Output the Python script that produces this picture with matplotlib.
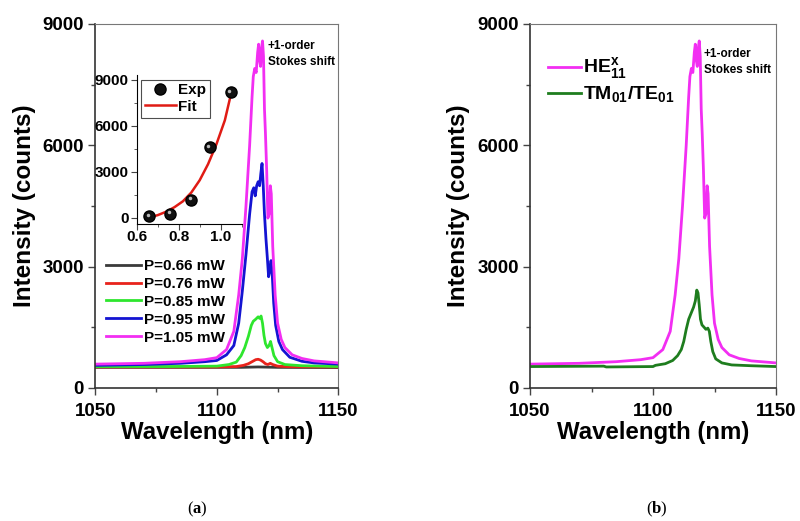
import matplotlib
matplotlib.use("Agg")
import matplotlib.pyplot as plt
from matplotlib.ticker import MultipleLocator
from matplotlib import transforms

# =====================================================
# FONTS
# =====================================================

plt.rcParams["font.family"] = ["Liberation Sans", "DejaVu Sans"]
plt.rcParams["font.weight"] = "bold"
plt.rcParams["mathtext.fontset"] = "custom"
plt.rcParams["mathtext.rm"] = "Liberation Sans:bold"
plt.rcParams["mathtext.bf"] = "Liberation Serif:bold"

# =====================================================
# DATA
# =====================================================

wl_066 = [1050, 1110, 1117, 1125, 1150]
i_066 = [510, 510, 520, 510, 505]

wl_076 = [1050, 1100, 1108, 1111, 1113, 1114.5, 1116, 1117, 1118, 1119,
          1120, 1121, 1122, 1123, 1125, 1130, 1150]
i_076 = [520, 520, 530, 560, 600, 650, 700, 710, 690, 650,
         600, 580, 610, 580, 540, 525, 520]

wl_085 = [1050, 1080, 1100, 1105, 1108, 1110, 1111.5, 1113, 1114.2, 1115,
          1116, 1117, 1117.6, 1118.2, 1118.8, 1119.4, 1120, 1120.8, 1121.5,
          1122.1, 1122.7, 1123.5, 1125, 1128, 1135, 1150]
i_085 = [530, 530, 540, 580, 640, 800, 1000, 1280, 1550, 1650,
         1700, 1760, 1720, 1780, 1600, 1300, 1100, 1000, 1050,
         1150, 1000, 800, 650, 580, 550, 530]

wl_095 = [1050, 1070, 1085, 1095, 1100, 1104, 1107, 1109, 1110.5, 1112,
          1113.5, 1114.5, 1115.2, 1115.8, 1116.4, 1117, 1117.6, 1118.1,
          1118.6, 1119.1, 1119.6, 1120.2, 1120.8, 1121.3, 1121.8, 1122.3,
          1122.8, 1123.4, 1124.2, 1125.5, 1127, 1130, 1135, 1140, 1150]
i_095 = [560, 580, 610, 650, 680, 820, 1050, 1600, 2400, 3300,
         4300, 4850, 4950, 4750, 5000, 5100, 5000, 5300,
         5550, 5000, 4300, 3700, 3200, 2750, 2900, 3150,
         2800, 2100, 1550, 1150, 950, 760, 660, 620, 590]

wl_105 = [1050, 1070, 1085, 1095, 1100, 1104, 1107, 1109, 1110.5, 1112,
          1113.5, 1114.5, 1115, 1115.6, 1116.2, 1116.8, 1117.2, 1117.6,
          1118, 1118.4, 1118.8, 1119.2, 1119.6, 1120, 1120.5, 1121, 1121.5,
          1122, 1122.4, 1123, 1124, 1125, 1126.5, 1128, 1131, 1135, 1140, 1150]
i_105 = [590, 610, 650, 700, 750, 950, 1400, 2300, 3200, 4500,
         6000, 7200, 7700, 7900, 7800, 8300, 8500, 8100,
         7950, 8400, 8580, 8200, 6900, 6300, 5400, 4200, 4300,
         5000, 4800, 3500, 2300, 1600, 1200, 1000, 820, 730, 670, 620]

wl_tm = [1050, 1080, 1081, 1100, 1101, 1105, 1108, 1110, 1111.5, 1112.5,
         1113.5, 1114.5, 1115.5, 1116.5, 1117.2, 1117.8, 1118.3, 1118.8,
         1119.3, 1119.9, 1120.8, 1121.5, 1122.3, 1122.9, 1123.5, 1124.3,
         1125.5, 1128, 1132, 1140, 1150]
i_tm = [530, 540, 520, 530, 560, 600, 680, 800, 950, 1150,
        1450, 1700, 1850, 2000, 2150, 2420, 2350, 2050,
        1700, 1560, 1500, 1450, 1480, 1400, 1150, 900,
        720, 620, 570, 550, 530]

power_exp = [0.66, 0.76, 0.86, 0.95, 1.05]
peak_exp = [100, 260, 1190, 4600, 8180]

power_fit = [0.66, 0.70, 0.74, 0.78, 0.82, 0.86, 0.90, 0.94, 0.98, 1.02, 1.05]
peak_fit = [30, 180, 400, 700, 1080, 1650, 2450, 3500, 4800, 6350, 8100]

power_labels = ["P=0.66 mW", "P=0.76 mW", "P=0.85 mW", "P=0.95 mW", "P=1.05 mW"]
power_colors = ["#3a3a3a", "#e8231c", "#2ee62e", "#1414d2", "#f22ef2"]

# =====================================================
# FIGURE
# =====================================================

fig = plt.figure(figsize=(8, 5.21), dpi=100)

ax_a = fig.add_axes([0.119, 0.2553, 0.304, 0.6987])
ax_b = fig.add_axes([0.6625, 0.2553, 0.3075, 0.6987])


def style_main(ax):
    ax.set_xlim(1050, 1150)
    ax.set_ylim(0, 9000)
    ax.xaxis.set_major_locator(MultipleLocator(50))
    ax.xaxis.set_minor_locator(MultipleLocator(25))
    ax.yaxis.set_major_locator(MultipleLocator(3000))
    ax.yaxis.set_minor_locator(MultipleLocator(1500))
    ax.tick_params(which="both", direction="out", top=False, right=False,
                   labelsize=13.5, width=1.0, color="#444444")
    ax.tick_params(which="major", length=5)
    ax.tick_params(which="minor", length=3)
    ax.tick_params(axis="x", which="major", pad=5.5)
    ax.tick_params(axis="y", which="major", pad=3)
    for lab in ax.get_xticklabels() + ax.get_yticklabels():
        lab.set_fontweight("bold")
    ax.spines["left"].set_color("#333333")
    ax.spines["bottom"].set_color("#333333")
    ax.spines["left"].set_linewidth(1.2)
    ax.spines["bottom"].set_linewidth(1.2)
    ax.spines["top"].set_color("#777777")
    ax.spines["right"].set_color("#777777")
    ax.spines["top"].set_linewidth(0.8)
    ax.spines["right"].set_linewidth(0.8)
    ax.set_xlabel("Wavelength (nm)", fontsize=17.3, fontweight="bold", labelpad=1)
    ax.set_ylabel("Intensity (counts)", fontsize=17.5, fontweight="bold", labelpad=5)


# =====================================================
# PANEL (a)
# =====================================================

spectra = [
    (wl_066, i_066),
    (wl_076, i_076),
    (wl_085, i_085),
    (wl_095, i_095),
    (wl_105, i_105),
]

for (wl, inten), lab, col in zip(spectra, power_labels, power_colors):
    ax_a.plot(wl, inten, color=col, lw=2.0, label=lab)

style_main(ax_a)

ax_a.legend(
    loc="upper left",
    bbox_to_anchor=(0.0, 0.384),
    frameon=False,
    handlelength=2.3,
    handletextpad=0.2,
    labelspacing=0.26,
    borderaxespad=0.3,
    prop={"weight": "bold", "size": 11},
)

ax_a.text(1121.0, 8600, "+1-order\nStokes shift", fontsize=8.5,
          fontweight="bold", va="top", ha="left", linespacing=1.45)

# inset
ax_in = fig.add_axes([0.171, 0.570, 0.131, 0.286])
ax_in.plot(power_fit, peak_fit, color="#e01b14", lw=1.8, label="Fit", zorder=2)
ax_in.plot(power_exp, peak_exp, "o", color="#111111", ms=8, mec="#000000",
           label="Exp", zorder=3)
hl = transforms.offset_copy(ax_in.transData, fig=fig, x=-1.2, y=1.2, units="points")
ax_in.plot(power_exp, peak_exp, "o", color="#bbbbbb", ms=2.5, mec="none",
           transform=hl, zorder=4)
ax_in.set_xlim(0.6, 1.1)
ax_in.set_ylim(-400, 9300)
ax_in.xaxis.set_minor_locator(MultipleLocator(0.1))
ax_in.yaxis.set_major_locator(MultipleLocator(3000))
ax_in.yaxis.set_minor_locator(MultipleLocator(1500))
ax_in.set_xticks([0.6, 0.8, 1.0])
ax_in.set_xticklabels(["0.6", "0.8", "1.0"])
ax_in.tick_params(which="both", direction="out", labelsize=11, color="#444444")
ax_in.tick_params(which="major", length=4)
ax_in.tick_params(which="minor", length=2)
ax_in.tick_params(axis="x", which="major", pad=0)
ax_in.tick_params(axis="y", which="major", pad=2)
for lab in ax_in.get_xticklabels() + ax_in.get_yticklabels():
    lab.set_fontweight("bold")
ax_in.spines["top"].set_visible(False)
ax_in.spines["right"].set_visible(False)
ax_in.patch.set_alpha(0)

h, l = ax_in.get_legend_handles_labels()
leg_in = ax_in.legend(
    [h[1], h[0]], [l[1], l[0]],
    loc="upper left",
    bbox_to_anchor=(0.0, 1.0),
    frameon=True,
    fancybox=False,
    edgecolor="#222222",
    handlelength=2.0,
    handletextpad=0.15,
    labelspacing=0.15,
    borderpad=0.25,
    borderaxespad=0.3,
    prop={"weight": "bold", "size": 11},
)
leg_in.get_frame().set_linewidth(0.8)

# =====================================================
# PANEL (b)
# =====================================================

ax_b.plot(wl_105, i_105, color="#f22ef2", lw=2.0,
          label=r"HE$_{\mathrm{11}}^{\mathrm{x}}$")
ax_b.plot(wl_tm, i_tm, color="#1e7d1e", lw=2.0,
          label=r"TM$_{\mathrm{01}}$/TE$_{\mathrm{01}}$")

style_main(ax_b)

ax_b.legend(
    loc="upper left",
    bbox_to_anchor=(0.0, 0.96),
    frameon=False,
    handlelength=1.7,
    handletextpad=0.15,
    labelspacing=0.15,
    prop={"weight": "bold", "size": 14},
)

ax_b.text(1120.7, 8400, "+1-order\nStokes shift", fontsize=8.5,
          fontweight="bold", va="top", ha="left", linespacing=1.45)

# =====================================================
# PANEL LABELS
# =====================================================

fig.text(0.247, 0.022, r"($\mathbf{a}$)", fontsize=12, fontweight="normal",
         family="Liberation Serif", ha="center", va="center")
fig.text(0.821, 0.022, r"($\mathbf{b}$)", fontsize=12, fontweight="normal",
         family="Liberation Serif", ha="center", va="center")

fig.savefig("out.png", dpi=100)
